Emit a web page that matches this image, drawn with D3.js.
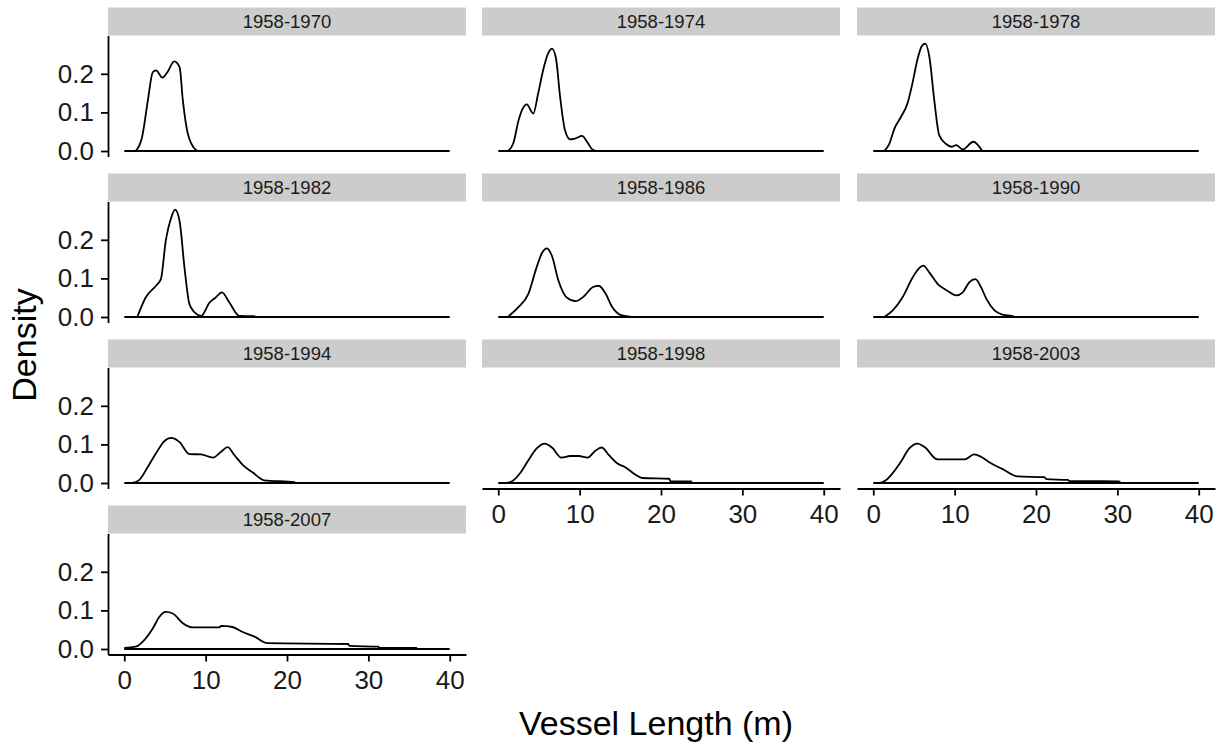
<!DOCTYPE html>
<html>
<head>
<meta charset="utf-8">
<script src="https://cdn.jsdelivr.net/npm/d3@7"></script>
<style>
  body { margin: 0; background: #fff; }
  text { font-family: "Liberation Sans", Arial, sans-serif; }
</style>
</head>
<body>
<script>
// facet labels, in drawing order (left to right, top to bottom)
var periods = ["1958-1970", "1958-1974", "1958-1978", "1958-1982", "1958-1986",
               "1958-1990", "1958-1994", "1958-1998", "1958-2003", "1958-2007"];

// density curves: [vessel length (m), density]
var dens1970 = [[1.4,0],[2.2,0.037],[2.9,0.131],[3.5,0.204],[3.9,0.209],[4.7,0.19],[5.3,0.204],
                [6.15,0.232],[6.8,0.217],[7.2,0.131],[7.8,0.046],[8.8,0.003],[9.1,0]];
var dens1974 = [[1.2,0],[1.85,0.02],[2.5,0.08],[3.0,0.11],[3.5,0.121],[4.3,0.097],[4.9,0.149],
                [5.6,0.217],[6.2,0.256],[6.6,0.265],[7.1,0.239],[7.6,0.14],[8.2,0.054],[8.85,0.03],
                [9.5,0.033],[10.3,0.039],[10.9,0.024],[11.6,0.003],[12,0]];
var dens1978 = [[1.35,0],[2.0,0.02],[2.6,0.058],[3.4,0.088],[4.2,0.123],[4.8,0.174],[5.45,0.239],
                [6.0,0.273],[6.4,0.278],[6.9,0.243],[7.5,0.131],[8.1,0.041],[8.95,0.018],[9.6,0.011],
                [10.2,0.015],[11.0,0.004],[12.3,0.024],[13.4,0]];
var dens1982 = [[1.6,0],[2.65,0.051],[3.9,0.081],[4.5,0.098],[5.1,0.197],[5.75,0.256],[6.25,0.278],
                [6.8,0.248],[7.4,0.128],[8.0,0.034],[8.6,0.013],[9.45,0.003],[10.5,0.038],[11.2,0.05],
                [12.0,0.064],[12.9,0.038],[14.15,0.003],[15.9,0.002],[16.2,0]];
var dens1986 = [[1.15,0],[2.5,0.026],[3.7,0.06],[4.7,0.128],[5.4,0.167],[5.97,0.178],[6.6,0.158],
                [7.4,0.094],[8.4,0.051],[9.5,0.041],[10.5,0.053],[11.6,0.077],[12.35,0.081],
                [13.2,0.06],[14.0,0.026],[15.2,0.004],[16.4,0]];
var dens1990 = [[1.35,0],[2.4,0.017],[3.6,0.051],[4.85,0.103],[5.7,0.128],[6.15,0.133],[6.9,0.115],
                [7.9,0.086],[9.1,0.068],[10.2,0.056],[11.0,0.064],[11.8,0.09],[12.55,0.098],
                [13.25,0.077],[13.9,0.047],[14.9,0.017],[15.9,0.006],[17.1,0.002],[17.4,0]];
var dens1994 = [[1.0,0],[1.85,0.008],[2.9,0.042],[3.9,0.077],[4.9,0.108],[5.75,0.117],[6.8,0.106],
                [8.0,0.075],[9.45,0.074],[10.9,0.066],[11.9,0.081],[12.7,0.093],[13.55,0.072],
                [14.55,0.047],[15.8,0.027],[17.2,0.007],[20.9,0.002],[21.0,0]];
var dens1998 = [[1.0,0],[1.65,0.004],[2.7,0.026],[3.7,0.059],[4.7,0.089],[5.7,0.102],[6.6,0.092],
                [7.75,0.066],[8.85,0.07],[9.9,0.07],[11.0,0.066],[11.9,0.083],[12.7,0.092],
                [13.6,0.072],[14.6,0.051],[15.6,0.041],[16.9,0.021],[17.7,0.013],[21.0,0.011],
                [21.2,0.004],[23.7,0.004],[23.8,0]];
var dens2003 = [[0.75,0],[1.55,0.007],[2.4,0.026],[3.4,0.055],[4.4,0.089],[5.45,0.102],[6.3,0.093],
                [7.9,0.061],[11.2,0.061],[12.4,0.074],[13.25,0.068],[14.3,0.053],[15.9,0.036],
                [17.75,0.017],[21.05,0.015],[21.25,0.01],[23.9,0.008],[24.1,0.005],[28.2,0.005],
                [30.2,0.004],[30.4,0]];
var dens2007 = [[0,0.003],[1.4,0.006],[2.45,0.023],[3.5,0.053],[4.3,0.083],[5.1,0.096],[5.95,0.092],
                [7.2,0.067],[8.4,0.056],[11.7,0.056],[11.9,0.06],[13.3,0.057],[14.55,0.044],
                [16.0,0.032],[17.6,0.015],[27.5,0.013],[27.7,0.008],[31.2,0.006],[31.4,0.003],
                [35.9,0.003],[36.0,0]];

var curves = [dens1970, dens1974, dens1978, dens1982, dens1986,
              dens1990, dens1994, dens1998, dens2003, dens2007];

// axis ticks
var lengthTicks = [0, 10, 20, 30, 40];
var densityTicks = [0, 0.1, 0.2];

// layout
var width = 1221, height = 744;
var colLeft = [108, 482, 857];
var panelW = 358, panelH = 121, stripH = 28;
var rowStep = 166, firstTop = 35.5;
var lw = 1.8;

var svg = d3.select("body").append("svg")
    .attr("width", width)
    .attr("height", height);

// scales shared by every panel (ggplot style 5% padding)
var x = d3.scaleLinear().domain([-2, 42]).range([0, panelW]);
var y = d3.scaleLinear().domain([-0.01425, 0.29925]).range([panelH, 0]);

var line = d3.line()
    .x(function(d) { return x(d[0]); })
    .y(function(d) { return y(d[1]); })
    .curve(d3.curveMonotoneX);

periods.forEach(function(name, i) {
    var col = i % 3, row = Math.floor(i / 3);
    var top = firstTop + row * rowStep;
    var g = svg.append("g")
        .attr("transform", "translate(" + colLeft[col] + "," + top + ")");

    // strip
    g.append("rect")
        .attr("x", 0)
        .attr("y", -stripH)
        .attr("width", panelW)
        .attr("height", stripH)
        .attr("fill", "#cccccc");
    g.append("text")
        .attr("x", panelW / 2)
        .attr("y", -stripH / 2)
        .attr("dy", "0.36em")
        .attr("text-anchor", "middle")
        .attr("font-size", 18.5)
        .attr("fill", "#1a1a1a")
        .text(name);

    // baseline of the density outline
    g.append("line")
        .attr("x1", x(0)).attr("x2", x(40))
        .attr("y1", y(0)).attr("y2", y(0))
        .attr("stroke", "black")
        .attr("stroke-width", lw);

    // density curve
    g.append("path")
        .datum(curves[i])
        .attr("d", line)
        .attr("fill", "none")
        .attr("stroke", "black")
        .attr("stroke-width", lw);

    // y axis on first column only
    if (col == 0) {
        var ya = g.append("g")
            .call(d3.axisLeft(y).tickValues(densityTicks).tickFormat(d3.format(".1f"))
                .tickSize(7).tickSizeOuter(0).tickPadding(7));
        styleAxis(ya);
    }

    // x axis under the lowest panel of each column
    var lastRow = Math.floor((periods.length - 1 - col) / 3);
    if (row == lastRow) {
        var xa = g.append("g")
            .attr("transform", "translate(0," + panelH + ")")
            .call(d3.axisBottom(x).tickValues(lengthTicks)
                .tickSize(7).tickSizeOuter(0).tickPadding(9));
        styleAxis(xa);
    }
});

function styleAxis(a) {
    a.select(".domain").attr("stroke", "black").attr("stroke-width", lw);
    a.selectAll(".tick line").attr("stroke", "black").attr("stroke-width", lw);
    a.selectAll(".tick text")
        .attr("font-size", 26)
        .attr("font-family", "Liberation Sans, Arial, sans-serif")
        .attr("fill", "#1a1a1a");
}

// axis titles
svg.append("text")
    .attr("x", 656)
    .attr("y", 735)
    .attr("text-anchor", "middle")
    .attr("font-size", 34)
    .attr("fill", "black")
    .text("Vessel Length (m)");

svg.append("text")
    .attr("transform", "translate(36,345) rotate(-90)")
    .attr("text-anchor", "middle")
    .attr("font-size", 34)
    .attr("fill", "black")
    .text("Density");
</script>
</body>
</html>
